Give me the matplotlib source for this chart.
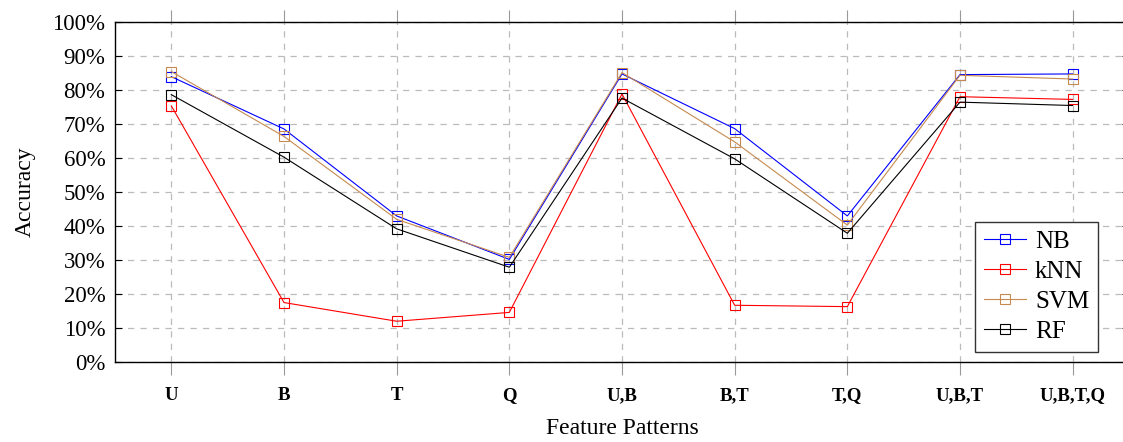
import matplotlib
matplotlib.use("Agg")
import matplotlib.pyplot as plt
from matplotlib.ticker import PercentFormatter

patterns = ["U", "B", "T", "Q", "U,B", "B,T", "T,Q", "U,B,T", "U,B,T,Q"]
nb = [84.0, 68.6, 43.0, 30.2, 84.8, 68.7, 43.0, 84.6, 84.8]
knn = [75.4, 17.5, 12.0, 14.6, 78.9, 16.7, 16.3, 78.1, 77.3]
svm = [85.5, 66.4, 42.0, 30.8, 85.2, 64.8, 40.3, 84.4, 83.3]
rf = [78.7, 60.3, 39.2, 27.9, 77.7, 59.8, 37.9, 76.5, 75.5]

series = [("NB", nb, "#0000ff"), ("kNN", knn, "#ff0000"),
          ("SVM", svm, "#c68a4f"), ("RF", rf, "#000000")]

plt.rcParams["font.family"] = ["Liberation Serif", "DejaVu Serif"]

W, H = 1123, 442
fig = plt.figure(figsize=(W / 100, H / 100), dpi=100)
ax = fig.add_axes([115 / W, (H - 362) / H, (1129 - 115) / W, (362 - 22.3) / H])

x = list(range(len(patterns)))
for name, vals, col in series:
    ax.plot(x, vals, color=col, lw=0.8, marker="s", ms=7.5,
            mfc="none", mec=col, mew=0.8, label=name, zorder=3)

ax.set_xlim(-0.5, 8.5)
ax.set_ylim(0, 100)
ax.set_yticks(range(0, 101, 10))
ax.yaxis.set_major_formatter(PercentFormatter(decimals=0))
ax.set_xticks(x)
ax.set_xticklabels(patterns, fontweight="bold", fontsize=13.5)
ax.tick_params(axis="y", direction="in", length=5, labelsize=16.5, right=True, pad=7)
ax.tick_params(axis="x", direction="out", length=9, color="#999999",
               top=True, pad=9)

ax.grid(True, color="#bbbbbb", linestyle=(0, (5, 5)), linewidth=0.9)
for s in ax.spines.values():
    s.set_linewidth(1.0)

ax.set_xlabel("Feature Patterns", fontsize=17, labelpad=10)
ax.set_ylabel("Accuracy", fontsize=17, labelpad=12)

leg = ax.legend(loc="lower right", bbox_to_anchor=((1098 - 115) / (1129 - 115), 0.03),
                fontsize=18, fancybox=False, edgecolor="#333333",
                framealpha=1, handlelength=1.7, borderpad=0.35,
                labelspacing=0.3, handletextpad=0.35, borderaxespad=0.0)
leg.get_frame().set_linewidth(1.0)

fig.savefig("out.png", dpi=100)
